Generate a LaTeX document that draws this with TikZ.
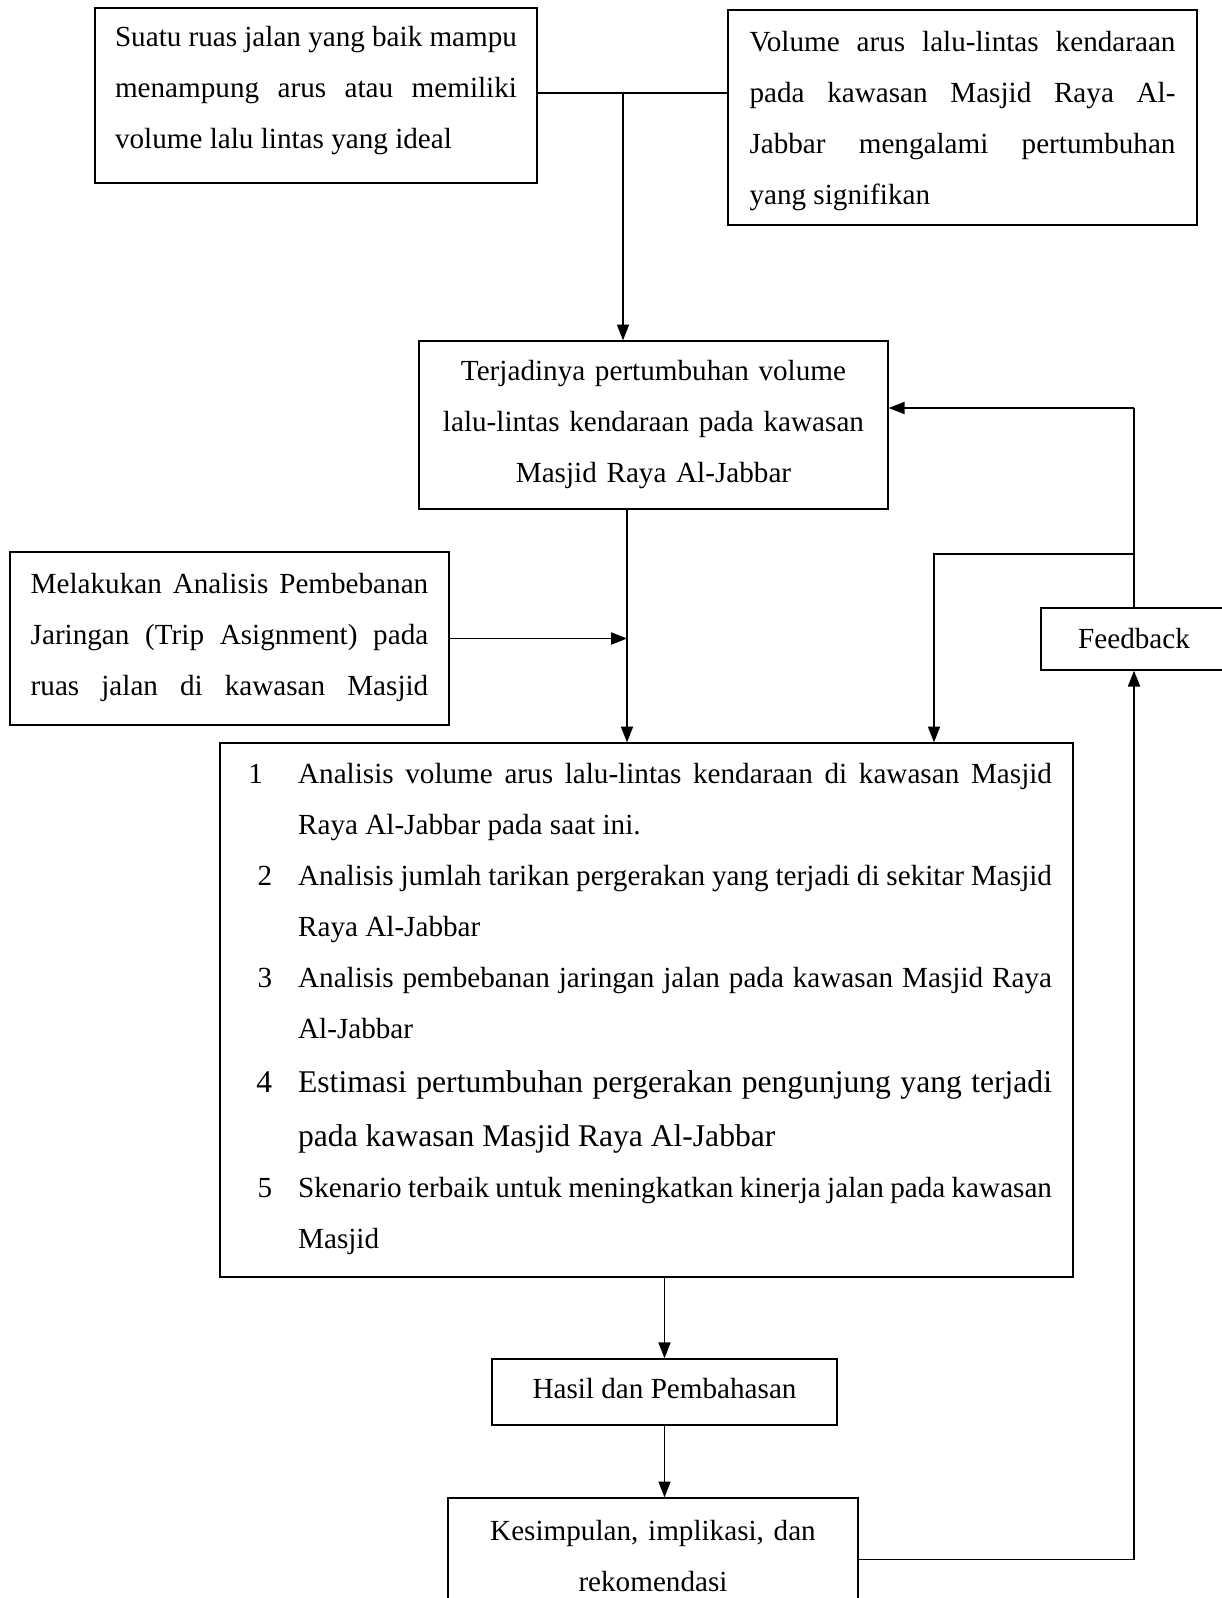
\documentclass[tikz,border=0pt]{standalone}
\usepackage{fontspec}
\setmainfont{Liberation Serif}
\usetikzlibrary{arrows.meta,positioning}

\setlength{\parindent}{0pt}
\hyphenpenalty=10000
\newcommand{\boxfont}{\fontsize{12}{21}\selectfont}
\newcommand{\bigfont}{\fontsize{13}{22.2}\selectfont}
\newcommand{\dn}{\rule[-7.5pt]{0pt}{7.5pt}}
% numbered line inside the big box
\newcommand{\numitem}[3][12.8pt]{\hangindent=23.5pt\hangafter=1\makebox[#1][r]{#2}\hspace{\dimexpr23.5pt-#1\relax}#3}

\tikzset{
  box/.style={draw, line width=0.6pt, font=\boxfont, inner ysep=0pt},
  onebox/.style={box, execute at begin node=\rule{0pt}{12.5pt}, execute at end node=\dn},
}

\begin{document}
\begin{tikzpicture}[x=0.4115pt, y=-0.4115pt, >={Triangle[length=6.5pt,width=5pt]},
  line/.style={line width=0.5pt}]
\path[use as bounding box, fill=white] (0,0) rectangle (1222,1598);

\node[box, align=justify, text width=165.4pt, inner xsep=8.2pt, minimum height=72pt] (ruas) at (316,95.5)
  {\rule{0pt}{9.2pt}Suatu ruas jalan yang baik mampu\linebreak menampung arus atau memiliki\linebreak volume lalu lintas yang ideal\dn\par};
\node[box, align=justify, text width=175.3pt, inner xsep=8.85pt, minimum height=88.5pt] (volume) at (962.5,117.5)
  {\rule{0pt}{15.8pt}Volume arus lalu-lintas kendaraan\linebreak pada kawasan Masjid Raya Al-\linebreak Jabbar mengalami pertumbuhan\linebreak yang signifikan\dn\par};
\node[box, align=center, text width=175pt, inner xsep=9pt, minimum height=69.1pt] (tumbuh) at (653.5,425)
  {\rule{0pt}{12.5pt}Terjadinya pertumbuhan volume\\ lalu-lintas kendaraan pada kawasan\\ Masjid Raya Al-Jabbar\dn\par};
\node[box, align=justify, text width=163.6pt, inner xsep=8.5pt, minimum height=71.2pt] (beban) at (229.5,638.5)
  {\rule{0pt}{12.5pt}\parfillskip=0pt Melakukan Analisis Pembebanan\linebreak Jaringan (Trip Asignment) pada\linebreak ruas jalan di kawasan Masjid\dn\par};
\node[onebox, minimum width=76.5pt, minimum height=25.5pt, execute at begin node=\rule{0pt}{15pt}] (feedback) at (1134,639) {Feedback};
\node[box, align=justify, text width=333.7pt, inner xsep=8.64pt, minimum height=219.7pt] (analisis) at (646.5,1010)
  {\rule{0pt}{12.5pt}\numitem[9pt]{1}{Analisis volume arus lalu-lintas kendaraan di kawasan Masjid\linebreak Raya Al-Jabbar pada saat ini.}\par
   \numitem{2}{Analisis jumlah tarikan pergerakan yang terjadi di sekitar Masjid\linebreak Raya Al-Jabbar}\par
   \numitem{3}{Analisis pembebanan jaringan jalan pada kawasan Masjid Raya\linebreak Al-Jabbar}\par
   \bigfont\numitem{4}{Estimasi pertumbuhan pergerakan pengunjung yang terjadi\linebreak pada kawasan Masjid Raya Al-Jabbar}\par
   \boxfont\numitem{5}{Skenario terbaik untuk meningkatkan kinerja jalan pada kawasan\linebreak Masjid}\dn\par};
\node[onebox, minimum width=142pt, minimum height=27.2pt] (hasil) at (664.5,1392) {Hasil dan Pembahasan};
\node[box, align=center, text width=150pt, inner xsep=9.35pt, minimum height=50.6pt] (simpul) at (653,1559.5)
  {\rule{0pt}{12.5pt}Kesimpulan, implikasi, dan\\ rekomendasi\dn\par};

\coordinate (topjoin) at (623,93);
\coordinate (midx) at (627,600);
\coordinate (dropx) at (934,554);
\coordinate (fbsplit) at (1134,554);
\coordinate (fbturn) at (1134,408);

\draw[line] (ruas.east |- topjoin) -- (volume.west |- topjoin);
\draw[line,->] (topjoin) -- (topjoin |- tumbuh.north);
\draw[line,->] (tumbuh.south -| midx) -- (analisis.north -| midx);
\draw[line,->] (beban.east) -- (beban.east -| midx);
\draw[line,->] (analisis.south -| hasil.north) -- (hasil.north);
\draw[line,->] (hasil.south) -- (hasil.south |- simpul.north);
\draw[line,->] (simpul.east) -| (feedback.south);
\draw[line] (feedback.north) -- (fbturn);
\draw[line,->] (fbturn) -- (fbturn -| tumbuh.east);
\draw[line,->] (fbsplit) -| (analisis.north -| dropx);
\end{tikzpicture}
\end{document}
